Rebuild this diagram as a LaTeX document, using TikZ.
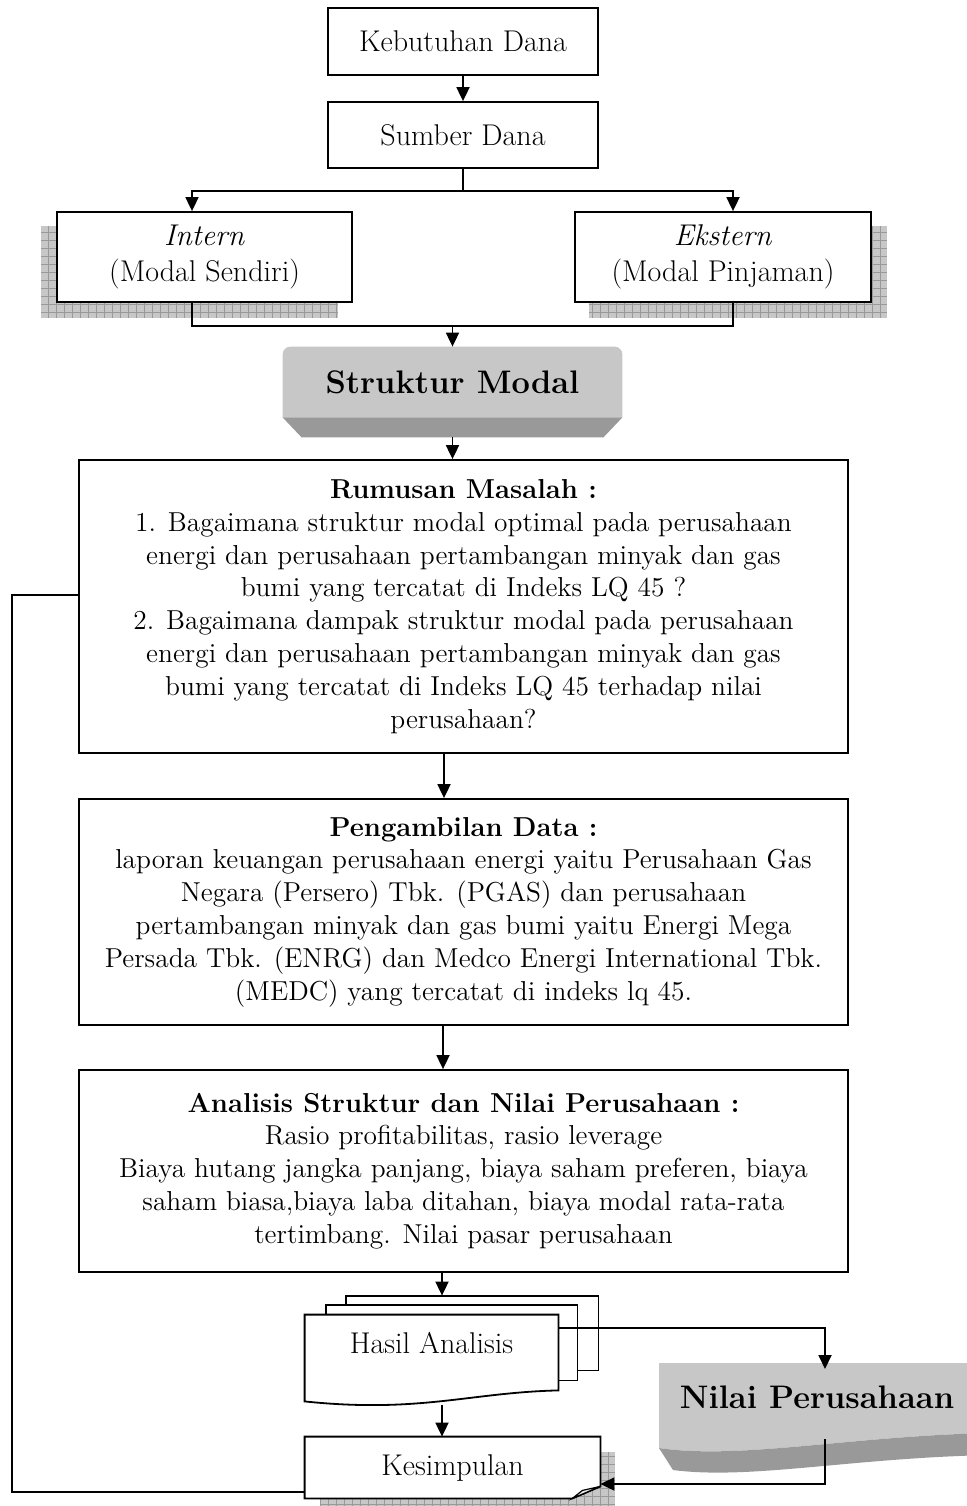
\documentclass[tikz,border=0pt]{standalone}
\usetikzlibrary{arrows.meta,positioning,calc,backgrounds}
\newcommand{\fbig}{\fontsize{15}{18}\selectfont}
\newcommand{\fbody}{\fontsize{13.7}{16.4}\selectfont}
\newcommand{\ftitle}{\fontsize{16.3}{20}\selectfont\bfseries}
\newcommand{\gridshade}[2]{%
  \fill[black!22] #1 rectangle #2;
  \draw[black!40, line width=0.3pt, step=4pt] #1 grid #2;}

\begin{document}
\begin{tikzpicture}[x=0.5pt, y=-0.5pt,
    flowbox/.style={draw, line width=0.9pt, fill=white, align=center, inner sep=0pt},
    link/.style={line width=0.9pt},
    arr/.style={link, -{Triangle[length=7pt, width=6.5pt]}}]
    \useasboundingbox (0,0) rectangle (966,1506);

    \node[flowbox, font=\fbig, minimum width=135pt, minimum height=33.5pt] (kebutuhan) at (463,41.5) {Kebutuhan Dana};
    \node[flowbox, font=\fbig, minimum width=135pt, minimum height=33pt] (sumber) at (463,135) {Sumber Dana};
    \node[flowbox, font=\fbig, minimum width=147.5pt, minimum height=45pt] (intern) at (204.5,257) {\textit{Intern}\\(Modal Sendiri)};
    \node[flowbox, font=\fbig, minimum width=148pt, minimum height=45pt] (ekstern) at (723,257) {\textit{Ekstern}\\(Modal Pinjaman)};
    \node[font=\ftitle, minimum width=169.5pt, minimum height=35pt] (struktur) at (452.5,382) {Struktur Modal};
    \node[flowbox, font=\fbody, minimum width=384.5pt, minimum height=146.5pt] (rumusan) at (463.5,606.5)
        {\textbf{Rumusan Masalah :}\\
         1. Bagaimana struktur modal optimal pada perusahaan\\
         energi dan perusahaan pertambangan minyak dan gas\\
         bumi yang tercatat di Indeks LQ 45 ?\\
         2. Bagaimana dampak struktur modal pada perusahaan\\
         energi dan perusahaan pertambangan minyak dan gas\\
         bumi yang tercatat di Indeks LQ 45 terhadap nilai\\
         perusahaan?};
    \node[flowbox, font=\fbody, minimum width=384.5pt, minimum height=113pt] (pengambilan) at (463.5,912)
        {\textbf{Pengambilan Data :}\\
         laporan keuangan perusahaan energi yaitu Perusahaan Gas\\
         Negara (Persero) Tbk. (PGAS) dan perusahaan\\
         pertambangan minyak dan gas bumi yaitu Energi Mega\\
         Persada Tbk. (ENRG) dan Medco Energi International Tbk.\\
         (MEDC) yang tercatat di indeks lq 45.};
    \node[flowbox, font=\fbody, minimum width=384.5pt, minimum height=101pt] (analisis) at (463.5,1171)
        {\textbf{Analisis Struktur dan Nilai Perusahaan :}\\
         Rasio profitabilitas, rasio leverage\\
         Biaya hutang jangka panjang, biaya saham preferen, biaya\\
         saham biasa,biaya laba ditahan, biaya modal rata-rata\\
         tertimbang. Nilai pasar perusahaan};
    \node[font=\fbig, minimum width=126.5pt, minimum height=27.5pt, inner sep=0pt] (hasil) at (431.5,1342.5) {Hasil Analisis};
    \node[font=\ftitle] (nilai) at (817,1397) {Nilai Perusahaan};
    \node[font=\fbig, minimum width=147.5pt, minimum height=30.5pt, inner sep=0pt] (kesimpulan) at (452.5,1467.5) {Kesimpulan};

    \begin{scope}[on background layer]
        \gridshade{($(intern.north west)+(-15,15)$)}{($(intern.south east)+(-15,15)$)}
        \gridshade{($(ekstern.north west)+(15,15)$)}{($(ekstern.south east)+(15,15)$)}
        \gridshade{($(kesimpulan.north west)+(15,15)$)}{($(kesimpulan.south east)+(15,15)$)}
        % struktur modal
        \fill[black!22, rounded corners=4pt] (struktur.south west) -- (struktur.north west) -- (struktur.north east) -- (struktur.south east);
        \fill[black!40] (struktur.south west) -- (struktur.south east) -- ($(struktur.south east)+(-19,20)$) -- ($(struktur.south west)+(19,20)$) -- cycle;
        % hasil analisis
        \filldraw[fill=white, link] ($(hasil.north west)+(41,-19)$) rectangle ($(hasil.south east)+(40,0)$);
        \filldraw[fill=white, link] ($(hasil.north west)+(21,-10)$) rectangle ($(hasil.south east)+(19,10)$);
        \filldraw[fill=white, link] (hasil.north west) -- (hasil.north east) -- ($(hasil.south east)+(0,20)$)
            .. controls ($(hasil.south east)+(-88,22)$) and ($(hasil.south west)+(115,43)$) .. ($(hasil.south west)+(0,31)$) -- cycle;
        % nilai perusahaan
        \fill[black!22] (659,1363) -- (990,1363) -- (990,1433) .. controls (850,1436) and (740,1460) .. (659,1448) -- cycle;
        \fill[black!40] (659,1448) .. controls (740,1460) and (850,1436) .. (990,1433) -- (990,1455) .. controls (850,1458) and (750,1480) .. (673,1470) -- cycle;
        % kesimpulan
        \filldraw[fill=white, link] (kesimpulan.north west) -- (kesimpulan.north east) -- ($(kesimpulan.south east)+(0,-12)$)
            -- ($(kesimpulan.south east)+(-28,0)$) -- (kesimpulan.south west) -- cycle;
        \filldraw[fill=black!8, link, line width=0.6pt] ($(kesimpulan.south east)+(-28,0)$) -- ($(kesimpulan.south east)+(-18,-8)$) -- ($(kesimpulan.south east)+(0,-12)$) -- cycle;
    \end{scope}

    \coordinate (split) at (463,191);
    \coordinate (join) at (452.5,326);
    \coordinate (hasilTop) at ($(hasil.north)+(10.5,-19)$);
    \coordinate (hasilBot) at ($(hasil.south)+(10.5,35)$);
    \coordinate (nilaiTop) at ($(nilai)+(8,-28)$);
    \coordinate (nilaiBot) at ($(nilai)+(8,42)$);
    \coordinate (loop) at (12,1492);

    \draw[arr] (kebutuhan) -- (sumber);
    \draw[link] (sumber) -- (split);
    \draw[arr] (split) -| ([xshift=-6.25pt]intern.north);
    \draw[arr] (split) -| ([xshift=5pt]ekstern.north);
    \draw[link] ([xshift=-6.25pt]intern.south) |- (join) -| ([xshift=5pt]ekstern.south);
    \draw[arr] (join) -- (struktur.north);
    \draw[arr] ($(struktur.south)+(0,20)$) -- (struktur.south |- rumusan.north);
    \draw[arr] ([xshift=-9.75pt]rumusan.south) -- ([xshift=-9.75pt]pengambilan.north);
    \draw[arr] ([xshift=-10.25pt]pengambilan.south) -- ([xshift=-10.25pt]analisis.north);
    \draw[arr] (hasilTop |- analisis.south) -- (hasilTop);
    \draw[arr] ([yshift=7.25pt]hasil.east) -| (nilaiTop);
    \draw[arr] (hasilBot) -- (hasilBot |- kesimpulan.north);
    \draw[arr] (nilaiBot) |- ([yshift=-8.25pt]kesimpulan.east);
    \draw[link] ([yshift=5.75pt]rumusan.west) -| (loop) -- (loop -| kesimpulan.west);
\end{tikzpicture}
\end{document}
